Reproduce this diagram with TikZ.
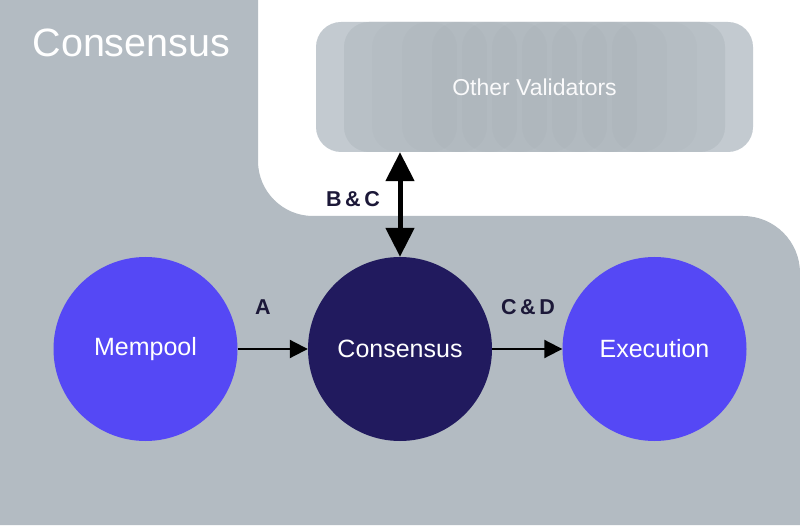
\documentclass[tikz,border=0pt]{standalone}
\usepackage{fontspec}
\setmainfont{Liberation Sans}
\usepackage{tikz}
\usetikzlibrary{arrows.meta}

\definecolor{bggrey}{HTML}{B3BBC2}
\definecolor{boxgrey}{HTML}{C3CAD0}
\definecolor{innergrey}{HTML}{B8C0C6}
\definecolor{stepblue}{HTML}{5548F5}
\definecolor{coreblue}{HTML}{211A5E}
\definecolor{labelnavy}{HTML}{1C1838}

\tikzset{
  stage/.style={circle, minimum size=184pt, inner sep=0pt, text=white,
    font=\fontsize{25}{29}\selectfont},
  steplabel/.style={text=labelnavy, font=\fontsize{21.5}{25}\selectfont\bfseries},
}

\begin{document}
\begin{tikzpicture}[x=1pt,y=1pt]
\useasboundingbox (0,0) rectangle (800,525);
\fill [white] (0,0) rectangle (800,525);
% grey area round the white corner
\fill [bggrey] (0,525) -- (258,525) -- (258,364) arc (180:270:55) -- (743,309)
  arc (90:0:57) -- (800,0) -- (0,0) -- cycle;
\node [anchor=base west, text=white, font=\fontsize{39.5}{46}\selectfont] (title) at (29,468) {Consensus};

% the stack of other validators
\fill [boxgrey, rounded corners=25] (316,373) rectangle (753,503);
\fill [innergrey, rounded corners=25] (344,373) rectangle (725,503);
\foreach \i in {0,...,8}
  \fill [black, fill opacity=0.01, rounded corners=25] (372+30*\i,373) rectangle (457+30*\i,503);
\node [minimum width=437pt, minimum height=130pt, text=white!93!bggrey,
  font=\fontsize{23}{27}\selectfont] (validators) at (534.5,438) {Other Validators};

\node [stage, fill=stepblue] (mempool) at (145.5,176) {Mempool};
\node [stage, fill=coreblue] (consensus) at (400,176) {Consensus};
\node [stage, fill=stepblue] (execution) at (654.5,176) {Execution};

\draw [-{Triangle[length=18pt,width=18pt]}, line width=2pt] (mempool) -- (consensus);
\draw [-{Triangle[length=18pt,width=18pt]}, line width=2pt] (consensus) -- (execution);
\draw [{Triangle[length=29pt,width=28pt]}-{Triangle[length=29pt,width=28pt]}, line width=5pt]
  (consensus.north |- validators.south) -- (consensus.north);

\node [steplabel] (a) at (263,218) {A};
\node [steplabel] (cd) at (528,218) {C\,\&\,D};
\node [steplabel] (bc) at (353,326) {B\,\&\,C};
\end{tikzpicture}
\end{document}
